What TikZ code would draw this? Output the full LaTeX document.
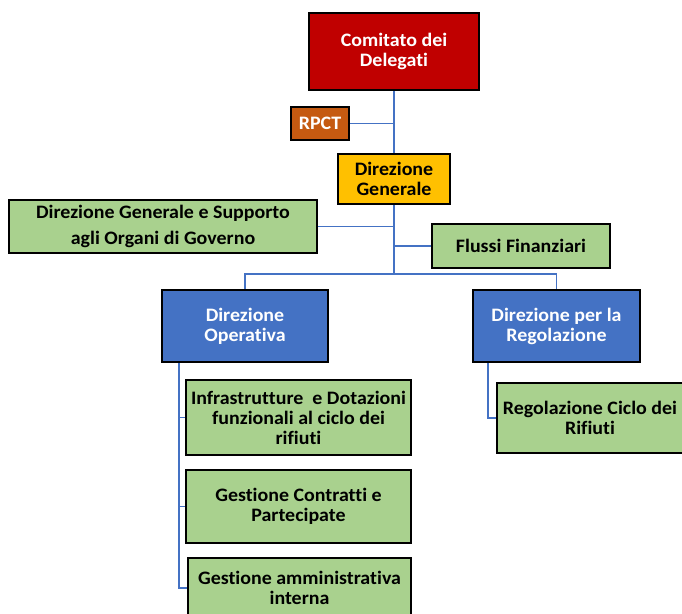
\documentclass[tikz,border=0pt]{standalone}
\usepackage{fontspec}
\setmainfont{Carlito}[Ligatures=NoCommon, FakeStretch=1.05]
\usepackage{xcolor}
\usepackage{tikz}
\usetikzlibrary{positioning,calc}

\definecolor{boardred}{HTML}{C00000}
\definecolor{rpctorange}{HTML}{C55A11}
\definecolor{dgyellow}{HTML}{FFC000}
\definecolor{officegreen}{HTML}{A9D18E}
\definecolor{dirblue}{HTML}{4472C4}

\tikzset{
    unit/.style={draw=black, line width=2pt, inner sep=0pt, align=center,
        font=\fontsize{19}{20}\selectfont\bfseries},
    office/.style={unit, fill=officegreen},
    link/.style={draw=dirblue, line width=1.5pt},
}

\begin{document}
\begin{tikzpicture}[x=1pt, y=-1pt]
    \useasboundingbox (0,0) rectangle (682,613);

    % Top level
    \node[unit, fill=boardred, text=white, minimum width=170pt, minimum height=77pt] (com) at (394,51.5) {Comitato dei\\Delegati};
    \node[unit, fill=rpctorange, text=white, minimum width=58pt, minimum height=33pt] (rpct) at (320,123.5) {RPCT};
    \node[unit, fill=dgyellow, minimum width=112pt, minimum height=50pt] (dg) at (394,179) {Direzione\\Generale};

    % Staff offices
    \node[office, minimum width=308pt, minimum height=53pt, font=\fontsize{19}{26}\selectfont\bfseries] (sup) at (163,226.5) {Direzione Generale e Supporto\\agli Organi di Governo};
    \node[office, minimum width=178pt, minimum height=44pt] (ff) at (521,246) {Flussi Finanziari};

    % Directorates
    \node[unit, fill=dirblue, text=white, minimum width=166pt, minimum height=72pt] (op) at (245,326) {Direzione\\Operativa};
    \node[unit, fill=dirblue, text=white, minimum width=167pt, minimum height=72pt] (reg) at (556.5,326) {Direzione per la\\Regolazione};

    % Offices
    \node[office, minimum width=225pt, minimum height=75pt] (infra) at (298.5,417.5) {Infrastrutture\ \ e Dotazioni\\funzionali al ciclo dei\\rifiuti};
    \node[office, minimum width=225pt, minimum height=73pt] (contr) at (298.5,506.5) {Gestione Contratti e\\Partecipate};
    \node[office, minimum width=223pt, minimum height=60pt] (amm) at (299.5,588) {Gestione amministrativa\\interna};
    \node[office, minimum width=186pt, minimum height=70pt] (ciclo) at (590,418) {Regolazione Ciclo dei\\Rifiuti};

    % Connectors
    \coordinate (split) at (394,274);
    \draw[link] (com.south) -- (dg.north);
    \draw[link] (rpct.east) -- (rpct.east -| com.south);
    \draw[link] (dg.south) -- (split);
    \draw[link] (sup.east) -- (sup.east -| dg.south);
    \draw[link] (ff.west) -- (ff.west -| dg.south);
    \draw[link] (op.north) |- (split) -| (reg.north);
    \foreach \n in {infra,contr,amm}
        \draw[link] ([xshift=18pt]op.south west) |- (\n.west);
    \draw[link] ([xshift=16pt]reg.south west) |- (ciclo.west);
\end{tikzpicture}
\end{document}
